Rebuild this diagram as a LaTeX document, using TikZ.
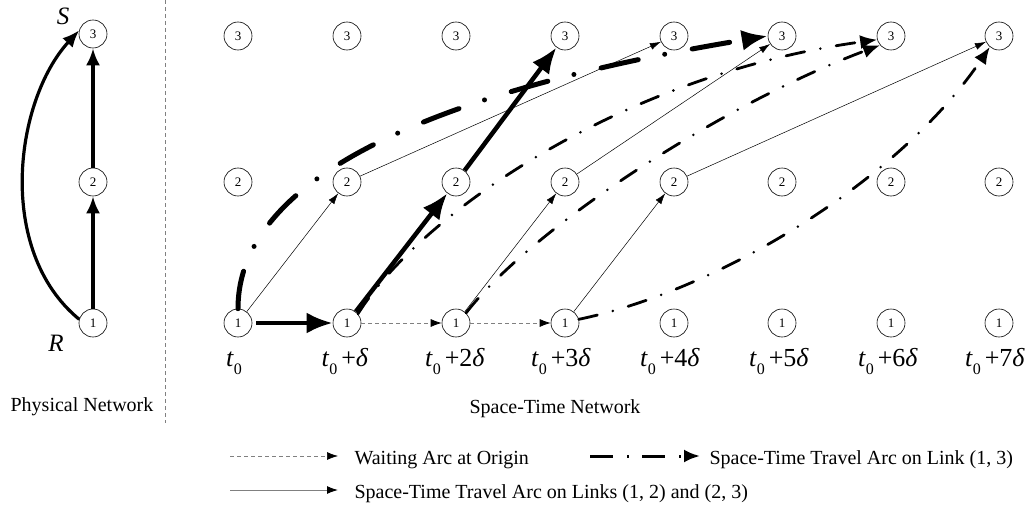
\documentclass[tikz,border=0pt]{standalone}
\usepackage{fontspec}
\setmainfont{Liberation Serif}
\usetikzlibrary{arrows.meta}
\newcommand{\tlbl}[1]{\textit{t}\raisebox{-8pt}{\fontsize{16}{16}\selectfont 0}\kern4pt#1}
\begin{document}
\begin{tikzpicture}[x=1pt,y=-1pt,
  stn/.style={circle, draw, line width=0.6pt, minimum size=28pt, inner sep=0pt, font=\fontsize{13}{13}\selectfont},
  boldarc/.style={line width=4.5pt, -{Latex[length=26pt,width=21pt]}},
  thinarc/.style={line width=0.5pt, -{Latex[length=11pt,width=7pt]}},
  waitarc/.style={gray, line width=0.7pt, dash pattern=on 4pt off 3pt, -{Latex[length=11pt,width=8pt,color=black]}},
  ddarc/.style={line width=2.8pt, line cap=round, dash pattern=on 19pt off 16pt on 0pt off 16pt, -{Latex[length=17pt,width=14pt]}},
  bddarc/.style={line width=5pt, line cap=round, dash pattern=on 38pt off 27pt on 0pt off 28pt, -{Latex[length=26pt,width=21pt]}},
  phys/.style={line width=3.2pt, -{Latex[length=17pt,width=14pt]}},
  tlab/.style={font=\fontsize{26}{30}\selectfont, anchor=base, inner sep=0pt},
  slab/.style={font=\fontsize{25}{30}\selectfont},
  captxt/.style={font=\fontsize{20}{24}\selectfont},
  leg/.style={font=\fontsize{20}{24}\selectfont, anchor=base west}
]
\useasboundingbox (0,0) rectangle (1034,511);

% physical network
\node[stn] (p1) at (93,323) {1};
\node[stn] (p2) at (93,182) {2};
\node[stn] (p3) at (93,34) {3};
\node[slab] (S) at (63,16) {\textit{S}};
\node[slab] (R) at (56,343) {\textit{R}};
\draw[phys] (p1) -- (p2);
\draw[phys] (p2) -- (p3);
\draw[phys] (p1.165) .. controls (-5,250) and (15,100) .. (p3.165);
\node[captxt] (pn) at (82,407) {Physical Network};

% separator
\coordinate (s0) at (165,0);
\coordinate (s1) at (165,423);
\draw[gray, line width=0.6pt, dash pattern=on 4pt off 3pt] (s0) -- (s1);

% space-time nodes
\foreach \i/\x in {0/238,1/347,2/456,3/565,4/674,5/782,6/891,7/999}{
  \node[stn] (a\i) at (\x,323) {1};
  \node[stn] (b\i) at (\x,182) {2};
  \node[stn] (c\i) at (\x,36) {3};
}
\node[tlab] (l0) at (236,366) {\tlbl{}};
\node[tlab] (l1) at (345,366) {\tlbl{+\textit{δ}}};
\node[tlab] (l2) at (455,366) {\tlbl{+2\textit{δ}}};
\node[tlab] (l3) at (561,366) {\tlbl{+3\textit{δ}}};
\node[tlab] (l4) at (670,366) {\tlbl{+4\textit{δ}}};
\node[tlab] (l5) at (779,366) {\tlbl{+5\textit{δ}}};
\node[tlab] (l6) at (888,366) {\tlbl{+6\textit{δ}}};
\node[tlab] (l7) at (995,366) {\tlbl{+7\textit{δ}}};
\node[captxt] (stnlbl) at (555,409) {Space-Time Network};

% waiting arcs
\draw[waitarc] (a1) -- (a2);
\draw[waitarc] (a2) -- (a3);

% thin travel arcs
\draw[thinarc] (a0) -- (b1);
\draw[thinarc] (b1) -- (c4);
\draw[thinarc] (a2) -- (b3);
\draw[thinarc] (b3) -- (c5);
\draw[thinarc] (a3) -- (b4);
\draw[thinarc] (b4) -- (c7);

% dash-dot arcs on link (1,3)
\draw[ddarc] (a1.40) .. controls (420,215) and (620,75) .. (c6.195);
\draw[ddarc] (a2.45) .. controls (530,230) and (720,105) .. (c6.220);
\draw[ddarc] (a3.15) .. controls (720,290) and (900,180) .. (c7.230);
\draw[bddarc] (a0.north) .. controls (238,175) and (440,90) .. (c5.west);

% bold path
\draw[boldarc, shorten <=4pt] (a0) -- (a1);
\draw[boldarc] (a1) -- (b2);
\draw[boldarc] (b2) -- (c3);

% legend
\coordinate (w0) at (230,456);
\coordinate (w1) at (338,456);
\draw[waitarc] (w0) -- (w1);
\node[leg] (wt) at (351,464) {Waiting Arc at Origin};
\coordinate (d0) at (590,456);
\coordinate (d1) at (700,456);
\draw[line width=3pt, dash pattern=on 23pt off 14pt on 2pt off 13pt, -{Latex[length=16pt,width=13pt]}] (d0) -- (d1);
\node[leg] (dt) at (706,464) {Space-Time Travel Arc on Link (1, 3)};
\coordinate (t0) at (230,490);
\coordinate (t1) at (338,490);
\draw[gray, line width=1pt, -{Latex[length=11pt,width=8pt,color=black]}] (t0) -- (t1);
\node[leg] (tt) at (351,498) {Space-Time Travel Arc on Links (1, 2) and (2, 3)};
\end{tikzpicture}
\end{document}
